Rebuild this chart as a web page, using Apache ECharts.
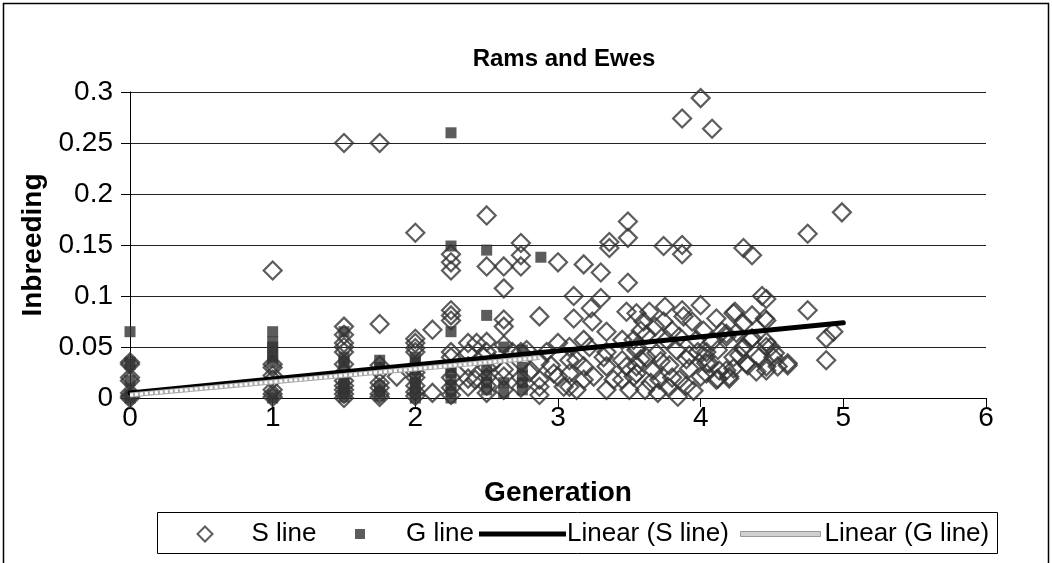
<!DOCTYPE html>
<html>
<head>
<meta charset="utf-8">
<script src="https://cdn.jsdelivr.net/npm/echarts@6/dist/echarts.min.js"></script>
<style>html,body{margin:0;padding:0;background:#fff;}#c{width:1052px;height:563px;}</style>
</head>
<body>
<div id="c"></div>
<script>
// ---- data ----
const chartTitle = 'Rams and Ewes';
const xAxisName = 'Generation';
const yAxisName = 'Inbreeding';
const xTicks = [0, 6, 1];          // min, max, interval
const yTicks = [0, 0.3, 0.05];     // min, max, interval
const seriesNames = ['S line', 'G line', 'Linear (S line)', 'Linear (G line)'];

// S line points [generation, inbreeding]
const sLine = [
  [0,0],[0,0.002],[0,0.005],[0,0.017],[0,0.02],[0,0.033],[0,0.035],
  [1,0.125],[1,0.033],[1,0.03],[1,0.022],[1,0.018],[1,0.008],[1,0.004],[1,0.001],
  [1.5,0.25],[1.5,0.07],[1.5,0.062],[1.5,0.054],[1.5,0.05],[1.5,0.045],[1.5,0.033],[1.5,0.025],[1.5,0.017],[1.5,0.012],[1.5,0.008],[1.5,0.004],[1.5,0],
  [1.75,0.25],[1.75,0.0725],[1.75,0.032],[1.75,0.026],[1.75,0.015],[1.75,0.01],[1.75,0.004],[1.75,0.001],
  [1.87,0.021],
  [2,0.162],[2,0.058],[2,0.054],[2,0.049],[2,0.045],[2,0.03],[2,0.025],[2,0.02],[2,0.012],[2,0.006],[2,0.002],
  [2.12,0.067],[2.12,0.005],
  [2.25,0.141],[2.25,0.133],[2.25,0.125],[2.25,0.086],[2.25,0.081],[2.25,0.076],[2.25,0.045],[2.25,0.04],[2.25,0.02],[2.25,0.01],[2.25,0.003],
  [2.37,0.054],[2.37,0.044],[2.37,0.031],[2.37,0.019],[2.37,0.011],
  [2.43,0.054],[2.42,0.018],
  [2.5,0.179],[2.5,0.129],[2.5,0.055],[2.5,0.045],[2.48,0.0405],[2.5,0.03],[2.5,0.02],[2.5,0.012],[2.5,0.005],[2.55,0.035],
  [2.62,0.129],[2.62,0.1075],[2.62,0.077],[2.62,0.07],[2.62,0.052],[2.62,0.028],[2.62,0.021],[2.62,0.008],[2.68,0.045],
  [2.74,0.152],[2.74,0.14],[2.74,0.129],[2.74,0.045],[2.74,0.035],[2.74,0.02],[2.74,0.01],[2.78,0.047],[2.8,0.025],
  [2.87,0.08],[2.87,0.036],[2.87,0.018],[2.87,0.011],[2.87,0.003],[2.92,0.045],[2.95,0.032],
  [3.0,0.133],[3.0,0.054],[2.97,0.024],[3.0,0.021],[3.04,0.011],
  [3.08,0.05],[3.08,0.037],[3.08,0.024],[3.08,0.011],
  [3.11,0.1],[3.11,0.078],[3.13,0.037],[3.13,0.008],
  [3.18,0.131],[3.18,0.057],[3.18,0.031],[3.18,0.018],
  [3.22,0.05],[3.23,0.088],[3.24,0.075],[3.25,0.021],
  [3.3,0.123],[3.3,0.098],
  [3.32,0.04],[3.34,0.065],[3.34,0.045],[3.34,0.031],[3.34,0.008],
  [3.36,0.153],[3.36,0.147],[3.39,0.018],
  [3.45,0.057],[3.45,0.037],[3.45,0.018],
  [3.49,0.173],[3.49,0.157],[3.49,0.113],[3.48,0.0846],[3.48,0.031],[3.5,0.008],
  [3.55,0.083],[3.55,0.05],[3.55,0.024],[3.53,0.057],[3.55,0.047],[3.55,0.031],[3.53,0.021],[3.58,0.038],[3.58,0.066],
  [3.6,0.075],[3.62,0.062],[3.64,0.0846],[3.61,0.008],[3.62,0.04],[3.65,0.015],
  [3.67,0.027],[3.69,0.044],[3.68,0.07],[3.7,0.005],[3.71,0.018],[3.72,0.036],
  [3.74,0.149],[3.74,0.075],[3.75,0.0895],[3.76,0.057],[3.77,0.011],[3.78,0.032],[3.8,0.02],[3.8,0.066],
  [3.83,0.047],[3.84,0.0013],[3.85,0.06],[3.85,0.018],[3.87,0.274],[3.87,0.15],[3.87,0.141],[3.87,0.086],[3.88,0.08],
  [3.9,0.012],[3.9,0.038],[3.92,0.042],[3.92,0.029],[3.94,0.075],[3.95,0.007],[3.97,0.057],[3.98,0.045],
  [4.0,0.294],[4.0,0.091],[4.0,0.021],[4.02,0.066],[4.03,0.04],[4.04,0.045],[4.04,0.034],[4.04,0.024],[4.06,0.034],
  [4.08,0.264],[4.08,0.055],[4.11,0.078],[4.11,0.018],[4.12,0.047],[4.12,0.019],[4.13,0.027],[4.15,0.065],
  [4.18,0.063],[4.18,0.06],[4.18,0.027],[4.2,0.021],[4.2,0.019],[4.23,0.083],[4.23,0.04],[4.23,0.029],[4.24,0.0846],[4.25,0.064],
  [4.27,0.042],[4.3,0.147],[4.3,0.073],[4.3,0.05],[4.3,0.049],[4.32,0.034],[4.33,0.032],
  [4.35,0.057],[4.36,0.14],[4.36,0.081],[4.36,0.0585],[4.39,0.026],[4.41,0.04],
  [4.43,0.1],[4.46,0.097],[4.45,0.078],[4.46,0.076],[4.46,0.055],[4.46,0.05],[4.46,0.031],[4.46,0.027],
  [4.49,0.05],[4.51,0.04],[4.52,0.044],[4.54,0.031],
  [4.61,0.034],[4.61,0.032],
  [4.75,0.161],[4.75,0.086],
  [4.88,0.0585],[4.88,0.037],[4.93,0.065],
  [4.99,0.182]
];

// G line points [generation, inbreeding]
const gLine = [
  [0,0.065],[0,0.035],[0,0.033],[0,0.017],[0,0.003],[0,0],
  [1,0.065],[1,0.055],[1,0.05],[1,0.045],[1,0.04],[1,0.035],[1,0.003],[1,0],
  [1.5,0.065],[1.5,0.04],[1.5,0.035],[1.5,0.03],[1.5,0.02],[1.5,0.015],[1.5,0.01],[1.5,0.005],[1.5,0.001],
  [1.75,0.037],[1.75,0.03],[1.75,0.012],[1.75,0.006],[1.75,0.002],
  [2,0.04],[2,0.035],[2,0.028],[2,0.02],[2,0.015],[2,0.01],[2,0.005],[2,0],
  [2.25,0.26],[2.25,0.149],[2.25,0.065],[2.25,0.03],[2.25,0.025],[2.25,0.018],[2.25,0.012],[2.25,0.006],[2.25,0],
  [2.5,0.145],[2.5,0.081],[2.5,0.03],[2.5,0.022],[2.5,0.015],[2.5,0.008],
  [2.62,0.05],[2.62,0.015],[2.62,0.005],
  [2.75,0.047],[2.75,0.03],[2.75,0.022],[2.75,0.015],[2.75,0.008],
  [2.88,0.138]
];

// Linear trend end points
const sTrendX = [0, 5];
const sTrendY = [0.005, 0.0738];
const gTrendX = [0, 2.87];
const gTrendY = [0.003, 0.0397];

// ---- chart ----
const FONT = '"Liberation Sans", Arial, sans-serif';
const chart = echarts.init(document.getElementById('c'), null, {renderer: 'canvas'});
const sTrend = sTrendX.map((x, i) => [x, sTrendY[i]]);
const gTrend = gTrendX.map((x, i) => [x, gTrendY[i]]);

function legendItem(item, left, iw, ih, padLeft) {
  return {
    data: [item], left: left, top: 516, itemWidth: iw, itemHeight: ih,
    textStyle: {fontFamily: FONT, fontSize: 26, color: '#000', padding: [0, 0, 0, padLeft]},
    selectedMode: false
  };
}

chart.setOption({
  animation: false,
  backgroundColor: '#fff',
  textStyle: {fontFamily: FONT},
  title: {
    text: chartTitle, left: 559, top: 42, textAlign: 'center',
    textStyle: {fontFamily: FONT, fontSize: 24, fontWeight: 'bold', color: '#000'}
  },
  graphic: [
    {type: 'rect', shape: {x: 3.5, y: 3.5, width: 1045, height: 620}, style: {fill: 'none', stroke: '#000', lineWidth: 1.5}, silent: true},
    {type: 'rect', shape: {x: 157.5, y: 512.5, width: 840, height: 41}, style: {fill: 'none', stroke: '#000', lineWidth: 1}, silent: true}
  ],
  legend: [
    legendItem(seriesNames[0], 191.5, 15, 15, 34),
    legendItem(seriesNames[1], 350, 10, 10, 36),
    legendItem({name: seriesNames[2], icon: 'rect', itemStyle: {color: '#000'}}, 474, 87, 5, -4),
    legendItem({name: seriesNames[3], icon: 'rect', itemStyle: {color: '#d0d0d0', borderColor: '#999', borderWidth: 1}}, 735, 80, 5, -1)
  ],
  grid: {left: 130, right: 66, top: 92, bottom: 165, containLabel: false},
  xAxis: {
    type: 'value', min: xTicks[0], max: xTicks[1], interval: xTicks[2],
    name: xAxisName, nameLocation: 'middle', nameGap: 81,
    nameTextStyle: {fontFamily: FONT, fontSize: 28, fontWeight: 'bold', color: '#000'},
    axisLine: {show: true, onZero: false, lineStyle: {color: '#000', width: 1}},
    axisTick: {show: true, length: 9, lineStyle: {color: '#000'}},
    axisLabel: {fontFamily: FONT, fontSize: 28, color: '#000', margin: 6},
    splitLine: {show: false}
  },
  yAxis: {
    type: 'value', min: yTicks[0], max: yTicks[1], interval: yTicks[2],
    name: yAxisName, nameLocation: 'middle', nameGap: 80,
    nameTextStyle: {fontFamily: FONT, fontSize: 28, fontWeight: 'bold', color: '#000'},
    axisLine: {show: true, onZero: false, lineStyle: {color: '#000', width: 1}},
    axisTick: {show: true, length: 9, lineStyle: {color: '#000'}},
    axisLabel: {fontFamily: FONT, fontSize: 28, color: '#000', margin: 17},
    splitLine: {show: true, lineStyle: {color: '#222', width: 1}}
  },
  series: [
    {
      name: seriesNames[0], type: 'scatter', data: sLine, symbol: 'diamond', symbolSize: 18,
      itemStyle: {color: 'rgba(255,255,255,0)', borderColor: '#333', borderWidth: 2.2}, z: 2
    },
    {
      name: seriesNames[1], type: 'scatter', data: gLine, symbol: 'rect', symbolSize: 11,
      itemStyle: {color: '#333'}, z: 3
    },
    {
      name: seriesNames[2], type: 'line', data: sTrend, showSymbol: false, symbol: 'none',
      itemStyle: {color: '#000'},
      lineStyle: {color: '#000', width: 5, cap: 'round'}, z: 4
    },
    {
      name: seriesNames[3], type: 'line', data: gTrend, showSymbol: false, symbol: 'none',
      itemStyle: {color: '#aaa'},
      lineStyle: {color: '#aaa', width: 5}, z: 5
    },
    {
      name: 'gTrendPattern', type: 'line', data: gTrend, showSymbol: false, symbol: 'none',
      itemStyle: {color: '#fff'},
      lineStyle: {color: '#fff', width: 3, type: [3, 2]}, z: 6
    }
  ]
});
</script>
</body>
</html>
